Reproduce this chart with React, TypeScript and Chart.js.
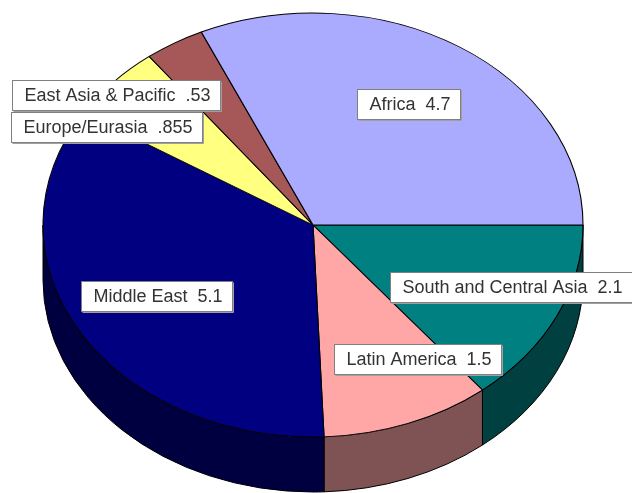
import React, { useEffect, useRef } from 'react';
import { Chart, registerables } from 'chart.js';

Chart.register(...registerables);

// Slices in clockwise order starting at 3 o'clock
const categories = ['South and Central Asia', 'Latin America', 'Middle East', 'Europe/Eurasia', 'East Asia & Pacific', 'Africa'];
const values = [2.1, 1.5, 5.1, 0.855, 0.53, 4.7];
const topColors = ['#008080', '#ffa6a6', '#000080', '#ffff80', '#a65757', '#aaaaff'];
const sideColors = ['#004040', '#7f5353', '#000040', '#80803f', '#532b2b', '#55557f'];
// label placement relative to each slice's middle (fraction of radius, angular shift in degrees)
const labelRadius = [0.79, 0.74, 0.67, 0.894, 0.955, 0.673];
const labelShift = [-3.9, -10.9, 0.3, -11.1, -19, -0.9];

const W = 632;
const H = 493;
const CX = 313;
const CY = 225;
const RX = 270;
const RY = 212;
const DEPTH = 55;

const fmt = (v: number) => String(v).replace(/^0\./, '.');

const pie3d = {
  id: 'pie3d',
  beforeDatasetsDraw(chart: any) {
    const ctx = chart.ctx as CanvasRenderingContext2D;
    const arcs = chart.getDatasetMeta(0).data as any[];
    chart.$pieSaved = false;
    if (!arcs.length) return;
    ctx.save();
    ctx.lineWidth = 1;
    ctx.strokeStyle = '#000';
    arcs.forEach((arc, i) => {
      const s = Math.max(arc.startAngle, 0);
      const e = Math.min(arc.endAngle, Math.PI);
      if (e <= s) return;
      ctx.beginPath();
      ctx.ellipse(CX, CY, RX, RY, 0, s, e, false);
      ctx.ellipse(CX, CY + DEPTH, RX, RY, 0, e, s, true);
      ctx.closePath();
      ctx.fillStyle = sideColors[i];
      ctx.fill();
      ctx.stroke();
    });
    ctx.restore();
    const a0 = arcs[0];
    ctx.save();
    ctx.translate(CX, CY);
    ctx.scale(RX / a0.outerRadius, RY / a0.outerRadius);
    ctx.translate(-a0.x, -a0.y);
    chart.$pieSaved = true;
  },
  afterDatasetsDraw(chart: any) {
    if (chart.$pieSaved) chart.ctx.restore();
    chart.$pieSaved = false;
  },
  afterDraw(chart: any) {
    const ctx = chart.ctx as CanvasRenderingContext2D;
    const arcs = chart.getDatasetMeta(0).data as any[];
    ctx.save();
    ctx.font = '18px "Liberation Sans", Arial, sans-serif';
    ctx.textBaseline = 'middle';
    ctx.textAlign = 'center';
    arcs.forEach((arc, i) => {
      const mid = (arc.startAngle + arc.endAngle) / 2 + (labelShift[i] * Math.PI) / 180;
      const x = CX + labelRadius[i] * RX * Math.cos(mid);
      const y = CY + labelRadius[i] * RY * Math.sin(mid);
      const text = `${categories[i]}  ${fmt(values[i])}`;
      const w = Math.round(ctx.measureText(text).width + 22);
      const h = 30;
      const left = Math.round(x - w / 2) + 0.5;
      const top = Math.round(y - h / 2) + 0.5;
      ctx.fillStyle = '#ffffff';
      ctx.fillRect(left, top, w, h);
      ctx.strokeStyle = '#808080';
      ctx.lineWidth = 1;
      ctx.strokeRect(left, top, w, h);
      ctx.strokeStyle = '#a0a0a0';
      ctx.beginPath();
      ctx.moveTo(left + 1, top + h + 1);
      ctx.lineTo(left + w + 1, top + h + 1);
      ctx.lineTo(left + w + 1, top + 1);
      ctx.stroke();
      ctx.fillStyle = '#333333';
      ctx.fillText(text, left + w / 2 + 1, top + h / 2 + 1);
    });
    ctx.restore();
  },
};

export default function App() {
  const ref = useRef<HTMLCanvasElement | null>(null);
  useEffect(() => {
    document.body.style.margin = '0';
    if (!ref.current) return;
    const chart = new Chart(ref.current, {
      type: 'pie',
      data: {
        labels: categories,
        datasets: [
          {
            data: values,
            backgroundColor: topColors,
            borderColor: '#000000',
            borderWidth: 1,
            hoverOffset: 0,
            offset: 0,
            clip: false,
          } as any,
        ],
      },
      options: {
        animation: false,
        responsive: false,
        maintainAspectRatio: false,
        rotation: 90,
        layout: { padding: 0 },
        events: [],
        plugins: {
          legend: { display: false },
          tooltip: { enabled: false },
        },
      },
      plugins: [pie3d],
    });
    return () => chart.destroy();
  }, []);
  return (
    <div style={{ width: W, height: H, background: '#fff' }}>
      <canvas ref={ref} width={W} height={H} style={{ display: 'block' }} />
    </div>
  );
}
